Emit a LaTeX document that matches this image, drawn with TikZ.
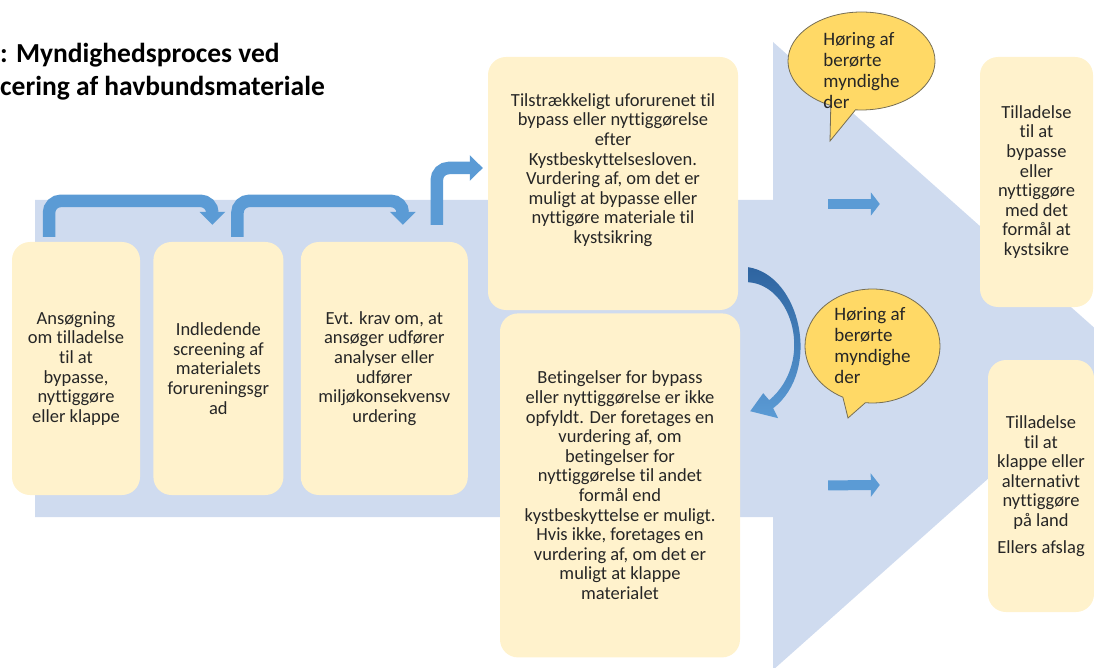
\documentclass[tikz,border=0pt]{standalone}
\usepackage{fontspec}
\setmainfont{Carlito}[Ligatures=NoCommon]
\usetikzlibrary{shapes,arrows.meta,positioning}
\definecolor{BandBlue}{RGB}{207,219,239}
\definecolor{BoxYellow}{RGB}{255,242,204}
\definecolor{BubbleGold}{RGB}{255,217,102}
\definecolor{BubbleLine}{RGB}{118,110,84}
\definecolor{ArrowBlue}{RGB}{91,155,213}
\definecolor{CurveDark}{RGB}{46,100,160}
\definecolor{TextGray}{RGB}{38,38,38}

\begin{document}
\begin{tikzpicture}[
    x=1pt, y=-1pt,
    box/.style={rectangle, rounded corners=18pt, fill=BoxYellow, text=TextGray,
                align=center, minimum height=253pt, inner sep=0pt,
                font=\fontsize{18.5}{19.6}\selectfont},
    bubble/.style={ellipse callout, draw=BubbleLine, line width=0.8pt, fill=BubbleGold,
                   text=TextGray, align=left, inner sep=-20pt, callout pointer arc=20,
                   font=\fontsize{19}{21}\selectfont},
    bentarrow/.style={line width=12.5pt, ArrowBlue, rounded corners=12pt,
                      -{Triangle[length=13pt,width=25pt]}},
    flatarrow/.style={line width=10pt, ArrowBlue, -{Triangle[length=9pt,width=23pt]}}
]
\useasboundingbox (0,0) rectangle (1094,668);
\clip (0,0) rectangle (1094,668);

% big arrow in the background
\fill[BandBlue] (35,200) -- (773,200) -- (773,42) -- (1126,356) -- (773,670)
    -- (773,517) -- (35,517) -- cycle;

\node[anchor=north west, align=left, inner sep=0pt,
      font=\bfseries\fontsize{27.5}{33}\selectfont] (title) at (0,43)
    {: Myndighedsproces ved\\cering af havbundsmateriale};

% steps
\node[box, minimum width=128pt] (ansog) at (76,368.5)
    {Ansøgning\\om tilladelse\\til at\\bypasse,\\nyttiggøre\\eller klappe};
\node[box, minimum width=130pt, right=13pt of ansog] (indl)
    {Indledende\\screening af\\materialets\\forureningsgr\\ad};
\node[box, minimum width=167pt, right=17pt of indl] (evt)
    {Evt. krav om, at\\ansøger udfører\\analyser eller\\udfører\\miljøkonsekvensv\\urdering};

\node[box, minimum width=250pt] (tilstr) at (613,183.5)
    {Tilstrækkeligt uforurenet til\\bypass eller nyttiggørelse\\efter\\Kystbeskyttelsesloven.\\Vurdering af, om det er\\muligt at bypasse eller\\nyttigøre materiale til\\kystsikring\rule[-30pt]{0pt}{30pt}};
\node[box, minimum width=240pt, minimum height=344pt, below=3pt of tilstr, xshift=7pt] (beting)
    {Betingelser for bypass\\eller nyttiggørelse er ikke\\opfyldt. Der foretages en\\vurdering af, om\\betingelser for\\nyttiggørelse til andet\\formål end\\kystbeskyttelse er muligt.\\Hvis ikke, foretages en\\vurdering af, om det er\\muligt at klappe\\materialet};

% results
\node[box, minimum width=113pt, minimum height=250pt] (resa) at (1036.5,182)
    {Tilladelse\\til at\\bypasse\\eller\\nyttiggøre\\med det\\formål at\\kystsikre};
\node[box, minimum width=106pt, minimum height=252pt] (resb) at (1041,486)
    {Tilladelse\\til at\\klappe eller\\alternativt\\nyttiggøre\\på land\\[7pt]Ellers afslag};

% curved arrow between the two middle boxes
\begin{scope}[shift={(tilstr.south east)}]
\shade[top color=CurveDark, bottom color=ArrowBlue]
    (10,-43) .. controls (62,-35) and (84,60) .. (35,98) -- (40,108) -- (12,101)
    -- (25,83) -- (31,90) .. controls (76,52) and (55,-25) .. (10,-28) -- cycle;
\end{scope}

\draw[bentarrow] ([xshift=-27pt,yshift=5pt]ansog.north) -- ++(0,-36)
    -| ([xshift=-6pt,yshift=17pt]indl.north);
\draw[bentarrow] ([xshift=19pt,yshift=5pt]indl.north) -- ++(0,-36)
    -| ([xshift=18.5pt,yshift=17pt]evt.north);
\draw[bentarrow] ([xshift=52.5pt,yshift=17pt]evt.north)
    |- ([xshift=-5pt,yshift=15.5pt]tilstr.west);

\draw[flatarrow] ([xshift=90pt,yshift=-20.5pt]tilstr.east) -- ([xshift=-100pt,yshift=-22pt]resa.west);
\draw[flatarrow] ([xshift=88pt]beting.east) -- ([xshift=-108pt,yshift=1pt]resb.west);

% hearings
\node[bubble, minimum width=147pt, minimum height=98pt,
      callout absolute pointer={(830,141)}] (hoera) at (861.5,61)
    {\rule{0pt}{33pt}Høring af\\berørte\\myndighe\\der};
\node[bubble, minimum width=135pt, minimum height=114pt,
      callout absolute pointer={(848,418)}] (hoerb) at (872.5,346)
    {Høring af\\berørte\\myndighe\\der};

\end{tikzpicture}
\end{document}
